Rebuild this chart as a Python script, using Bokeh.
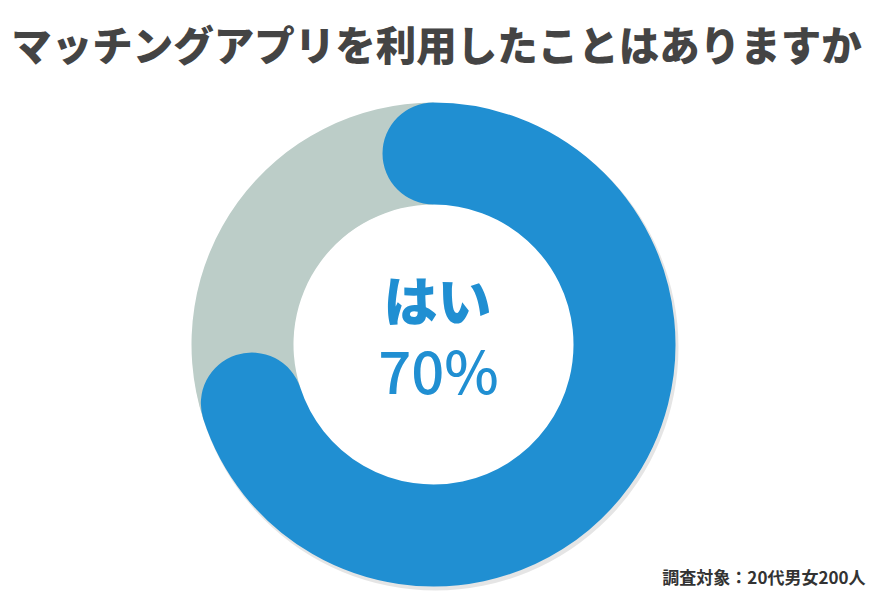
import math
from bokeh.plotting import figure
from bokeh.models import Range1d
from bokeh.core.properties import value
from bokeh.embed import file_html
from bokeh.resources import INLINE

# Data
categories = ["はい", "いいえ"]
shares = [70, 30]
title_text = "マッチングアプリを利用したことはありますか"
center_label = "はい"
center_value = "70%"
note_text = "調査対象：20代男女200人"

W, H = 874, 600
p = figure(width=W, height=H, output_backend="svg", toolbar_location=None,
           x_range=Range1d(0, W), y_range=Range1d(0, H), min_border=0)
p.axis.visible = False
p.grid.visible = False
p.outline_line_color = None
p.background_fill_color = "white"
p.border_fill_color = "white"

cx, cy = 433, 256
r_in, r_out = 140, 242
r_mid = (r_in + r_out) / 2
ring_w = r_out - r_in

total = sum(shares)
start = math.pi / 2
yes_end = start - 2 * math.pi * shares[0] / total

# subtle shadow
p.annulus(x=[cx + 2], y=[cy - 3], inner_radius=r_in + 4, outer_radius=r_out + 1,
          fill_color="#000000", fill_alpha=0.10, line_color=None)

# remainder (いいえ)
p.annular_wedge(x=[cx], y=[cy], inner_radius=r_in, outer_radius=r_out,
                start_angle=[start], end_angle=[yes_end + 2 * math.pi],
                direction="anticlock", fill_color="#bccdc8", line_color=None)

# main share (はい) with round caps
p.arc(x=[cx], y=[cy], radius=r_mid, start_angle=[start], end_angle=[yes_end],
      direction="clock", line_color="#208fd2", line_width=ring_w, line_cap="round")

p.text(x=[cx + 4], y=[302], text=[center_label], text_color="#208fd2",
       text_font=value("Noto Sans CJK JP Black"), text_font_style="bold",
       text_font_size="54px", text_align="center", text_baseline="middle")
p.text(x=[cx + 5], y=[232], text=[center_value], text_color="#208fd2",
       text_font=value("Noto Sans CJK JP Medium"), text_font_size="58px",
       text_align="center", text_baseline="middle")

p.text(x=[436], y=[557], text=[title_text], text_color="#444444",
       text_font=value("Noto Sans CJK JP Black"), text_font_style="bold",
       text_font_size="40.5px", text_align="center", text_baseline="middle")

p.text(x=[865], y=[24], text=[note_text], text_color="#333333",
       text_font=value("Noto Sans CJK JP"), text_font_style="bold",
       text_font_size="17px", text_align="right", text_baseline="middle")

open("out.html", "w").write(file_html(p, INLINE))
